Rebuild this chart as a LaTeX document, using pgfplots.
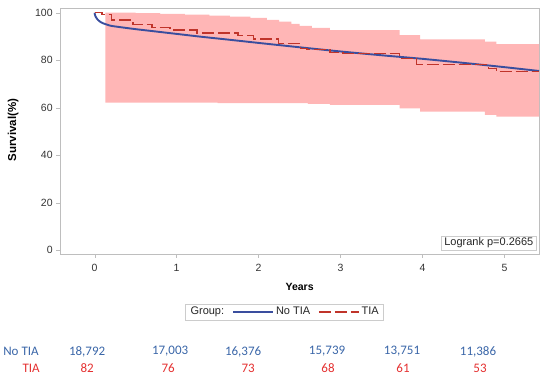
\documentclass[border=0pt]{standalone}
\usepackage{pgfplots}
\pgfplotsset{compat=1.18}
\usepgfplotslibrary{fillbetween}
\usepackage{fontspec}
\setmainfont{Liberation Sans}
\newfontfamily\calibri{Carlito}
\definecolor{band}{RGB}{255,182,182}
\definecolor{kmblue}{RGB}{58,78,158}
\definecolor{kmred}{RGB}{192,52,42}
\definecolor{tblblue}{RGB}{58,102,168}
\definecolor{tblred}{RGB}{228,48,48}
\definecolor{frame}{RGB}{190,190,190}
\begin{document}
\begin{tikzpicture}
\begin{axis}[
  at={(60pt,127pt)}, anchor=south west,
  width=479pt, height=246pt, scale only axis,
  xmin=-0.42, xmax=5.42, ymin=-1.5, ymax=102,
  xtick={0,1,2,3,4,5}, ytick={0,20,40,60,80,100},
  tick align=outside, tick pos=left, major tick length=4pt,
  axis line style={draw=frame},
  tick style={draw=frame},
  ticklabel style={font=\fontsize{10.5}{12}\selectfont, text=black!80},
  xticklabel style={yshift=-3pt},
  /pgf/number format/assume math mode=true,
  legend columns=-1,
  legend style={at={(axis description cs:0.4687,-0.2358)}, anchor=center,
    draw=black!20, font=\fontsize{11}{13}\selectfont, text=black!85,
    inner xsep=3pt, inner ysep=1.5pt,
    /tikz/every even column/.append style={column sep=6pt}},
  legend image code/.code={\draw[#1] (0pt,0pt) -- (40pt,0pt);},
]
\addplot[const plot, draw=none, name path=U, forget plot] coordinates {
 (0.13,100) (0.5,99.8) (0.8,99.5) (1.1,99.2) (1.4,98.8) (1.65,98.4) (1.9,97.8)
 (2.1,97.0) (2.25,96.3) (2.4,95.3) (2.5,94.5) (2.65,93.6) (2.87,92.7)
 (3.72,90.6) (3.97,88.8) (4.76,87.8) (4.9,86.8) (5.42,86.8)};
\addplot[const plot, draw=none, name path=L, forget plot] coordinates {
 (0.13,62.2) (1.5,62.0) (2.6,61.7) (2.87,61.2) (3.72,59.8) (3.97,58.4)
 (4.76,57.0) (4.9,56.3) (5.42,56.3)};
\addplot[band, draw=none, forget plot] fill between[of=U and L];

\addlegendimage{empty legend}
\addlegendentry{Group:\hspace{8pt}}

\addplot[kmblue, line width=1.9pt, smooth, tension=0.4] coordinates {
 (0,100) (0.004,99.2) (0.012,98.4) (0.03,97.4) (0.06,96.4) (0.1,95.6)
 (0.15,95.0) (0.2,94.5) (0.3,94.0) (0.5,93.1) (0.7,92.3) (1.0,91.1)
 (1.3,89.9) (1.6,88.8) (2.0,87.3) (2.3,86.2) (2.63,85.0) (3.0,83.7)
 (3.5,82.1) (4.0,80.6) (4.5,78.9) (5.0,77.1) (5.42,75.5)};
\addlegendentry{No TIA}

\addplot[kmred, line width=1.3pt, const plot, dash pattern=on 12pt off 4pt] coordinates {
 (0,100) (0.09,99.3) (0.21,96.9) (0.47,95.1) (0.70,93.7) (0.92,92.7)
 (1.25,91.5) (1.75,90.3) (1.94,89.0) (2.24,87.1) (2.51,85.0) (2.59,84.6)
 (2.87,83.4) (3.03,82.9) (3.72,80.8) (3.93,78.3) (4.80,76.6) (4.90,75.2)
 (5.42,75.2)};
\addlegendentry{TIA}

\node[anchor=south east, draw=black!20, fill=white, inner xsep=3pt, inner ysep=1.5pt,
  font=\fontsize{11}{13}\selectfont, text=black!85]
  at ([xshift=-2.5pt,yshift=4pt]axis description cs:1,0) {Logrank p=0.2665};
\end{axis}
\node[rotate=90, font=\bfseries\fontsize{11.5}{13}\selectfont] at (13pt,251pt) {Survival(\%)};
\node[font=\bfseries\fontsize{10.5}{12}\selectfont] at (299.5pt,94pt) {Years};
% number at risk
\begin{scope}[font=\calibri\fontsize{13}{15}\selectfont]
\node[anchor=east, text=tblblue] at (42pt,29.3pt) {No TIA};
\node[anchor=east, text=tblred] at (43pt,13pt) {TIA};
\node[text=tblblue] at (87pt,29.3pt) {18,792};
\node[text=tblblue] at (170pt,29.3pt) {17,003};
\node[text=tblblue] at (243pt,29.3pt) {16,376};
\node[text=tblblue] at (327pt,29.3pt) {15,739};
\node[text=tblblue] at (402pt,29.3pt) {13,751};
\node[text=tblblue] at (478pt,29.3pt) {11,386};
\node[text=tblred] at (87pt,13pt) {82};
\node[text=tblred] at (168pt,13pt) {76};
\node[text=tblred] at (248pt,13pt) {73};
\node[text=tblred] at (328pt,13pt) {68};
\node[text=tblred] at (403pt,13pt) {61};
\node[text=tblred] at (480pt,13pt) {53};
\end{scope}
\path (0pt,0pt) rectangle (550pt,381pt);
\end{tikzpicture}
\end{document}
